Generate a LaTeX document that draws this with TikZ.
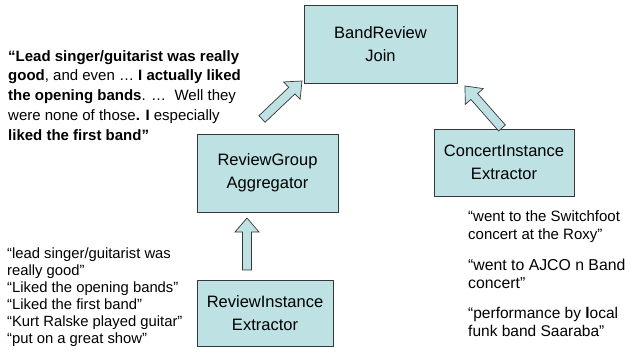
\documentclass[tikz,border=0pt]{standalone}
\usepackage{fontspec}
\setmainfont{Liberation Sans}
\usetikzlibrary{calc}
\definecolor{boxfill}{RGB}{190,226,228}
\definecolor{boxline}{RGB}{55,55,55}
\tikzset{
  box/.style={draw=boxline, line width=0.9pt, fill=boxfill, align=center, font=\fontsize{16.5}{23}\selectfont, inner sep=0pt},
  quote/.style={align=left, inner sep=0pt, anchor=north west},
  barrowstyle/.style={draw=boxline, line width=0.7pt, fill=boxfill, line join=miter}
}
\newcommand\blockarrow[2]{%
  \coordinate (hb) at ($(#2)!14pt!(#1)$);
  \draw[barrowstyle] ($(#1)!4.5pt!90:(#2)$) -- ($(hb)!4.5pt!-90:(#1)$) -- ($(hb)!12pt!-90:(#1)$) -- (#2) -- ($(hb)!12pt!90:(#1)$) -- ($(hb)!4.5pt!90:(#1)$) -- ($(#1)!4.5pt!-90:(#2)$) -- cycle;
}
\begin{document}
\begin{tikzpicture}[x=1pt,y=-1pt]
\useasboundingbox[fill=white] (0,0) rectangle (637,356);

\node[box, minimum width=153pt, minimum height=78pt] (join) at (380.5,44) {BandReview\\Join};
\node[box, minimum width=141pt, minimum height=78pt] (agg) at (267.5,173) {ReviewGroup\\Aggregator};
\node[box, minimum width=136pt, minimum height=66pt] (rie) at (265,313.5) {ReviewInstance\\Extractor};
\node[box, minimum width=140pt, minimum height=67pt] (cie) at (504,162.5) {ConcertInstance\\Extractor};

\coordinate (a1t) at (247,270);
\coordinate (a1h) at (247,218);
\coordinate (a2t) at (262,119);
\coordinate (a2h) at (302,81);
\coordinate (a3t) at (502,128);
\coordinate (a3h) at (465,86);
\blockarrow{a1t}{a1h}
\blockarrow{a2t}{a2h}
\blockarrow{a3t}{a3h}

\node[quote, font=\fontsize{15}{19.8}\selectfont] (q1) at (8,50) {%
\textbf{“Lead singer/guitarist was really}\\
\textbf{good}, and even … \textbf{I actually liked}\\
\textbf{the opening bands}. …\ \ Well they\\
were none of those\textbf{. I} especially\\
\textbf{liked the first band”}};

\node[quote, font=\fontsize{14.8}{17}\selectfont] (q2) at (7,247.2) {%
“lead singer/guitarist was\\
really good”\\
“Liked the opening bands”\\
“Liked the first band”\\
“Kurt Ralske played guitar”\\
“put on a great show”};

\node[quote, font=\fontsize{15}{18}\selectfont] (q3) at (468,210) {%
“went to the Switchfoot\\
concert at the Roxy”};
\node[quote, font=\fontsize{15.8}{18}\selectfont] (q4) at (468,258.5) {%
“went to AJCO n Band\\
concert”};
\node[quote, font=\fontsize{15.5}{18.5}\selectfont] (q5) at (468,306.7) {%
“performance by \textbf{l}ocal\\
funk band Saaraba”};
\end{tikzpicture}
\end{document}
